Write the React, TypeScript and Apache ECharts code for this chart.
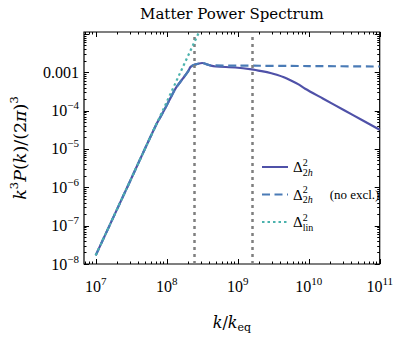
import React, { useEffect, useRef } from "react";
import * as echarts from "echarts";

// ---------- data ----------
const chartTitle = "Matter Power Spectrum";
const seriesNames = ["halo", "haloNoExcl", "lin"];

// linear power spectrum (teal dotted)
const kLin = [1e7, 2e7, 5e7, 1e8, 2e8, 3e8];
const pLin = [1.68e-8, 2.7e-7, 1.05e-5, 1.68e-4, 2.7e-3, 1.36e-2];

// two-halo term (solid)
const kHalo = [
  1e7, 3e7, 7.05e7, 9.16e7, 1.19e8, 1.33e8, 1.67e8, 2.0e8, 2.17e8, 2.5e8, 3.16e8,
  4.06e8, 4.91e8, 9.25e8, 1.58e9, 2.17e9, 2.98e9, 3.55e9, 4.47e9, 5.62e9, 7.08e9,
  8.91e9, 1.58e10, 3.16e10, 5.62e10, 1e11,
];
const pHalo = [
  1.68e-8, 1.36e-6, 4.17e-5, 1.0e-4, 2.57e-4, 3.76e-4, 6.68e-4, 1.05e-3, 1.38e-3, 1.58e-3, 1.74e-3,
  1.51e-3, 1.41e-3, 1.33e-3, 1.19e-3, 1.07e-3, 9.44e-4, 8.61e-4, 7.41e-4, 6.1e-4, 4.9e-4,
  3.72e-4, 2.07e-4, 1.02e-4, 5.69e-5, 3.16e-5,
];

// two-halo term without exclusion (dashed)
const kNoExcl = [
  1e7, 3e7, 7.05e7, 9.16e7, 1.19e8, 1.33e8, 1.67e8, 2.0e8, 2.17e8, 2.5e8, 3.16e8,
  4.06e8, 1e9, 1e10, 1e11,
];
const pNoExcl = [
  1.68e-8, 1.36e-6, 4.17e-5, 1.0e-4, 2.57e-4, 3.76e-4, 6.68e-4, 1.05e-3, 1.38e-3, 1.58e-3, 1.74e-3,
  1.52e-3, 1.49e-3, 1.45e-3, 1.41e-3,
];

// vertical reference lines
const vLines = [2.44e8, 1.58e9];

// axes
const xRange = [6.84e6, 1e11];
const yRange = [1e-8, 1.12e-2];
const xTickValues = [1e7, 1e8, 1e9, 1e10, 1e11];
const xTickLabels = ["{b|10}{s|7}", "{b|10}{s|8}", "{b|10}{s|9}", "{b|10}{s|10}", "{b|10}{s|11}"];
const yTickValues = [1e-8, 1e-7, 1e-6, 1e-5, 1e-4, 1e-3];
const yTickLabels = [
  "{b|10}{s|\u22128}",
  "{b|10}{s|\u22127}",
  "{b|10}{s|\u22126}",
  "{b|10}{s|\u22125}",
  "{b|10}{s|\u22124}",
  "{b|0.001}",
];
const yMajorTicks = [1e-8, 1e-7, 1e-6, 1e-5, 1e-4, 1e-3, 1e-2];
const xMajorTicks = [1e6, 1e7, 1e8, 1e9, 1e10, 1e11];
const mantissas = [2, 3, 4, 5, 6, 7, 8, 9];

const legendLabels = [
  "{d|\u0394}{u|2}{l|2}{li|h}",
  "{d|\u0394}{u|2}{l|2}{li|h}{g| }{t|(no excl.)}",
  "{d|\u0394}{u|2}{l|lin}",
];

const COLORS = ["#4f51a8", "#4a7bb6", "#4bb2ad"];

const SERIF = "'Liberation Serif', 'Times New Roman', serif";
const MATH = "'DejaVu Serif', serif";

function matchLabel(v: number, values: number[], labels: string[]) {
  for (let i = 0; i < values.length; i++) {
    if (Math.abs(Math.log10(v) - Math.log10(values[i])) < 1e-6) return labels[i];
  }
  return "";
}

function buildTicks(major: number[], range: number[]) {
  const out: { v: number; len: number }[] = [];
  major.forEach((m) => {
    if (m >= range[0] * 0.9999 && m <= range[1] * 1.0001) out.push({ v: m, len: 5 });
    mantissas.forEach((f) => {
      const t = m * f;
      if (t >= range[0] && t <= range[1]) out.push({ v: t, len: 2.5 });
    });
  });
  return out;
}

export default function App() {
  const ref = useRef<HTMLDivElement>(null);

  useEffect(() => {
    if (!ref.current) return;
    const chart = echarts.init(ref.current, undefined, { renderer: "svg" });

    const xTicks = buildTicks(xMajorTicks, xRange).map((t) => [t.v, yRange[0], t.len, 0]);
    const yTicks = buildTicks(yMajorTicks, yRange).map((t) => [xRange[0], t.v, t.len, 1]);

    const tickRender = (params: any, api: any) => {
      const cs = params.coordSys;
      const len = api.value(2);
      const isX = api.value(3) === 0;
      const st = { stroke: "#000", lineWidth: 1 };
      if (isX) {
        const x = Math.round(api.coord([api.value(0), yRange[0]])[0]) + 0.5;
        const b = cs.y + cs.height;
        return {
          type: "group",
          children: [
            { type: "line", shape: { x1: x, y1: b, x2: x, y2: b - len }, style: st },
            { type: "line", shape: { x1: x, y1: cs.y, x2: x, y2: cs.y + len }, style: st },
          ],
        };
      }
      const y = Math.round(api.coord([xRange[0], api.value(1)])[1]) + 0.5;
      const r = cs.x + cs.width;
      return {
        type: "group",
        children: [
          { type: "line", shape: { x1: cs.x, y1: y, x2: cs.x + len, y2: y }, style: st },
          { type: "line", shape: { x1: r, y1: y, x2: r - len, y2: y }, style: st },
        ],
      };
    };

    const tickRich = {
      b: { fontFamily: SERIF, fontSize: 16, lineHeight: 22, color: "#000" },
      s: { fontFamily: SERIF, fontSize: 11, lineHeight: 11, verticalAlign: "top", color: "#000" },
    };

    const pairs = (ks: number[], ps: number[]) => ks.map((k, i) => [k, ps[i]]);

    const option: any = {
      animation: false,
      backgroundColor: "#fff",
      textStyle: { fontFamily: SERIF },
      grid: {
        left: 78,
        right: 15,
        top: 26,
        bottom: 70,
        show: true,
        borderColor: "#000",
        borderWidth: 1.2,
        backgroundColor: "transparent",
      },
      legend: {
        orient: "vertical",
        left: 256,
        top: 152,
        itemWidth: 26,
        itemHeight: 14,
        itemGap: 7.5,
        selectedMode: false,
        data: seriesNames,
        itemStyle: { opacity: 0 },
        formatter: (name: string) => legendLabels[seriesNames.indexOf(name)],
        textStyle: {
          color: "#000",
          fontFamily: SERIF,
          fontSize: 13,
          rich: {
            d: { fontFamily: SERIF, fontSize: 15, lineHeight: 20, color: "#000" },
            u: { fontFamily: SERIF, fontSize: 10, lineHeight: 10, verticalAlign: "top", width: 0.01, color: "#000" },
            l: { fontFamily: SERIF, fontSize: 10, lineHeight: 10, verticalAlign: "bottom", color: "#000" },
            li: { fontFamily: SERIF, fontSize: 10, lineHeight: 10, verticalAlign: "bottom", fontStyle: "italic", color: "#000" },
            g: { fontFamily: SERIF, fontSize: 12, width: 17 },
            t: { fontFamily: SERIF, fontSize: 13, lineHeight: 20, color: "#000" },
          },
        },
      },
      xAxis: [
        {
          type: "log",
          logBase: 10,
          min: xRange[0],
          max: xRange[1],
          axisLine: { show: false },
          axisTick: { show: false },
          splitLine: { show: false },
          minorTick: { show: false },
          axisLabel: {
            interval: 0,
            margin: 11,
            fontFamily: SERIF,
            formatter: (v: number) => matchLabel(v, xTickValues, xTickLabels),
            rich: tickRich,
          },
          name: "{i|k}{r|/}{i|k}{sub|eq}",
          nameLocation: "middle",
          nameGap: 47,
          nameTextStyle: {
            fontFamily: MATH,
            rich: {
              i: { fontFamily: MATH, fontStyle: "italic", fontSize: 16, lineHeight: 22, color: "#000" },
              r: { fontFamily: MATH, fontSize: 16, lineHeight: 22, color: "#000" },
              sub: { fontFamily: MATH, fontSize: 11, lineHeight: 11, verticalAlign: "bottom", color: "#000" },
            },
          },
        },
        {
          type: "log",
          logBase: 10,
          position: "top",
          min: xRange[0],
          max: xRange[1],
          axisLine: { show: false },
          axisTick: { show: false },
          splitLine: { show: false },
          axisLabel: { show: false },
          name: chartTitle,
          nameLocation: "middle",
          nameGap: 9,
          nameTextStyle: { fontFamily: MATH, fontSize: 15, lineHeight: 18, color: "#000" },
        },
      ],
      yAxis: {
        type: "log",
        logBase: 10,
        min: yRange[0],
        max: yRange[1],
        axisLine: { show: false },
        axisTick: { show: false },
        splitLine: { show: false },
        minorTick: { show: false },
        axisLabel: {
          interval: 0,
          margin: 5,
          showMaxLabel: false,
          fontFamily: SERIF,
          formatter: (v: number) => matchLabel(v, yTickValues, yTickLabels),
          rich: tickRich,
        },
        name: "{i|k}{s|3}{i|P}{r|(}{i|k}{r|)/(2}{i|\u03c0}{r|)}{s|3}",
        nameLocation: "middle",
        nameRotate: 90,
        nameGap: 52,
        nameTextStyle: {
          fontFamily: MATH,
          rich: {
            i: { fontFamily: MATH, fontStyle: "italic", fontSize: 17.5, lineHeight: 24, color: "#000" },
            r: { fontFamily: MATH, fontSize: 17.5, lineHeight: 24, color: "#000" },
            s: { fontFamily: MATH, fontSize: 11.5, lineHeight: 12, verticalAlign: "top", color: "#000" },
          },
        },
      },
      series: [
        {
          name: seriesNames[0],
          type: "line",
          data: pairs(kHalo, pHalo),
          symbol: "none",
          smooth: 0.25,
          lineStyle: { color: COLORS[0], width: 2.2 },
          itemStyle: { color: COLORS[0] },
          emphasis: { disabled: true },
          z: 3,
        },
        {
          name: seriesNames[1],
          type: "line",
          data: pairs(kNoExcl, pNoExcl),
          symbol: "none",
          smooth: 0.25,
          lineStyle: { color: COLORS[1], width: 2.2, type: [8, 4.5] },
          itemStyle: { color: COLORS[1] },
          emphasis: { disabled: true },
          z: 4,
        },
        {
          name: seriesNames[2],
          type: "line",
          data: pairs(kLin, pLin),
          symbol: "none",
          lineStyle: { color: COLORS[2], width: 2.2, type: [2.5, 3] },
          itemStyle: { color: COLORS[2] },
          emphasis: { disabled: true },
          z: 5,
          markLine: {
            silent: true,
            symbol: ["none", "none"],
            label: { show: false },
            lineStyle: { color: "#7f7f7f", width: 2.5, type: [3, 4] },
            data: vLines.map((v) => ({ xAxis: v })),
          },
        },
        {
          name: "xticks",
          type: "custom",
          data: xTicks,
          renderItem: tickRender,
          silent: true,
          z: 10,
        },
        {
          name: "yticks",
          type: "custom",
          data: yTicks,
          renderItem: tickRender,
          silent: true,
          z: 10,
        },
      ],
    };

    chart.setOption(option);
    return () => chart.dispose();
  }, []);

  return (
    <div
      ref={ref}
      style={{ position: "fixed", left: 0, top: 0, width: 396, height: 338, background: "#fff" }}
    />
  );
}
